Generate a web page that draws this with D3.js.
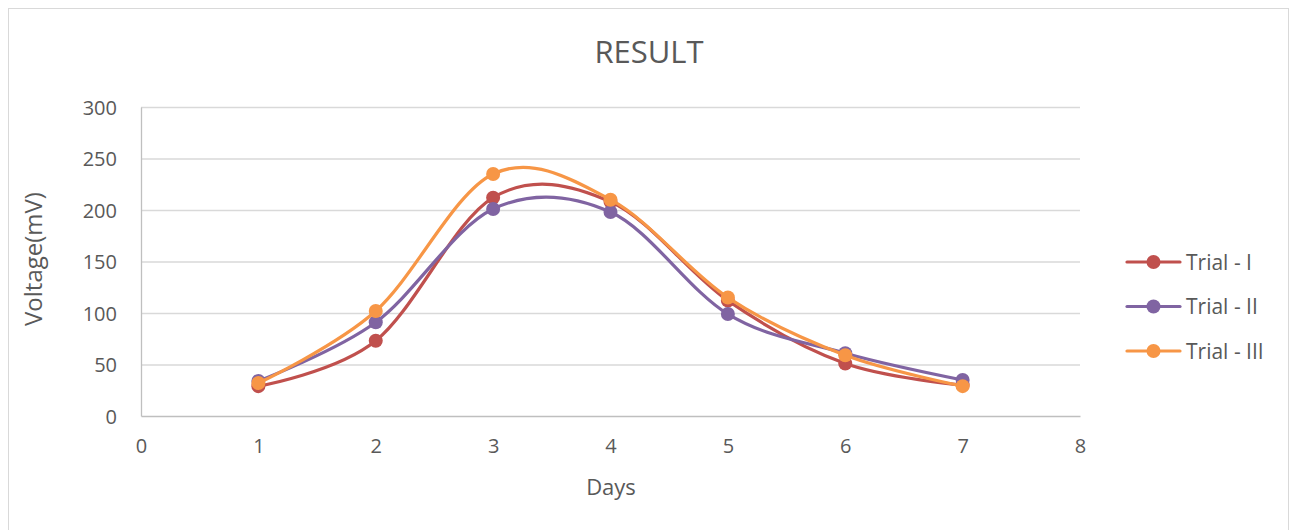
<!DOCTYPE html>
<html>
<head>
<meta charset="utf-8">
<script src="https://cdn.jsdelivr.net/npm/d3@7"></script>
<style>
  body { margin: 0; background: #fff; }
  svg { display: block; font-family: "Open Sans", sans-serif; }
</style>
</head>
<body>
<svg id="chart" width="1290" height="530"></svg>
<script>
// data
const days = [1, 2, 3, 4, 5, 6, 7];
const trial1 = [29, 73, 212, 208, 112, 51, 30];
const trial2 = [34, 91, 201, 198, 99, 61, 35];
const trial3 = [32, 102, 235, 210, 115, 59, 29];
const seriesNames = ["Trial - I", "Trial - II", "Trial - III"];
const seriesColors = ["#C0504D", "#8064A2", "#F79646"];
const xTicks = [0, 1, 2, 3, 4, 5, 6, 7, 8];
const yTicks = [0, 50, 100, 150, 200, 250, 300];

const series = [trial1, trial2, trial3].map((vals, i) => ({
  name: seriesNames[i],
  color: seriesColors[i],
  points: vals.map((v, j) => ({ x: days[j], y: v }))
}));

const svg = d3.select("#chart");
const textColor = "#595959";

// outer border
svg.append("rect")
  .attr("x", 8.5).attr("y", 8.5)
  .attr("width", 1280).attr("height", 540)
  .attr("fill", "none").attr("stroke", "#d9d9d9");

const x = d3.scaleLinear().domain([0, 8]).range([141, 1080]);
const y = d3.scaleLinear().domain([0, 300]).range([416, 107]);

// gridlines
svg.append("g").selectAll("line")
  .data(yTicks.filter(d => d > 0))
  .enter().append("line")
  .attr("x1", x(0)).attr("x2", x(8))
  .attr("y1", d => y(d) + 0.5).attr("y2", d => y(d) + 0.5)
  .attr("stroke", "#d9d9d9").attr("stroke-width", 1.3);

// axes
const xAxis = svg.append("g")
  .attr("transform", `translate(0,${y(0)})`)
  .call(d3.axisBottom(x).tickValues(xTicks).tickSize(0).tickPadding(23));
const yAxis = svg.append("g")
  .attr("transform", `translate(${x(0)},0)`)
  .call(d3.axisLeft(y).tickValues(yTicks).tickSize(0).tickPadding(24));

[xAxis, yAxis].forEach(g => {
  g.select(".domain").attr("stroke", "#bfbfbf").attr("stroke-width", 1.3);
  g.selectAll("text").attr("fill", textColor).attr("font-size", 20)
    .attr("font-family", "Open Sans, sans-serif");
});
yAxis.selectAll("text").attr("dy", "0.36em");

// title and axis titles
svg.append("text")
  .attr("x", 649).attr("y", 63)
  .attr("text-anchor", "middle")
  .attr("font-size", 31).attr("fill", textColor)
  .text("RESULT");

svg.append("text")
  .attr("x", 611).attr("y", 495)
  .attr("text-anchor", "middle")
  .attr("font-size", 22).attr("fill", textColor)
  .text("Days");

svg.append("text")
  .attr("transform", "translate(42,259) rotate(-90)")
  .attr("text-anchor", "middle")
  .attr("font-size", 24).attr("fill", textColor)
  .text("Voltage(mV)");

// lines
const line = d3.line()
  .x(d => x(d.x)).y(d => y(d.y))
  .curve(d3.curveCardinal.tension(0));

const sg = svg.append("g").selectAll("g")
  .data(series).enter().append("g");

sg.append("path")
  .attr("d", d => line(d.points))
  .attr("fill", "none")
  .attr("stroke", d => d.color)
  .attr("stroke-width", 3.2)
  .attr("stroke-linecap", "round");

sg.selectAll("circle")
  .data(d => d.points.map(p => ({ ...p, color: d.color })))
  .enter().append("circle")
  .attr("cx", d => x(d.x)).attr("cy", d => y(d.y))
  .attr("r", 7)
  .attr("fill", d => d.color);

// legend
const legend = svg.append("g").selectAll("g")
  .data(series).enter().append("g")
  .attr("transform", (d, i) => `translate(1127,${262 + i * 44.5})`);

legend.append("line")
  .attr("x1", 0).attr("x2", 53)
  .attr("stroke", d => d.color).attr("stroke-width", 3.2)
  .attr("stroke-linecap", "round");
legend.append("circle")
  .attr("cx", 26.5).attr("r", 7)
  .attr("fill", d => d.color);
legend.append("text")
  .attr("x", 59).attr("dy", "0.36em")
  .attr("font-size", 21).attr("fill", textColor)
  .text(d => d.name);
</script>
</body>
</html>
